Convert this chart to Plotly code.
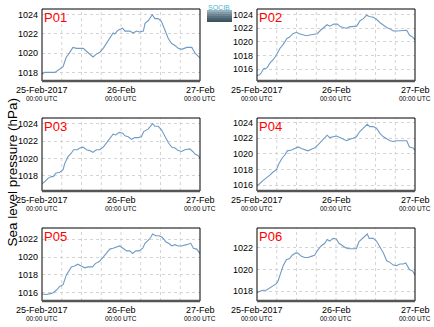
import pandas as pd
import plotly.graph_objects as go

START = "2017-02-25 00:00"

# ---- data: hours since 25-Feb-2017 00:00 UTC and sea level pressure (hPa) ----
p01_h = [0, 0.8, 2.3, 3.9, 5.2, 5.9, 6.4, 6.9, 7.4, 8.1, 8.7, 9.4, 10.5, 12.5, 13.5, 14.5, 15.5, 16.5,
         17.6, 18.6, 19.6, 20.6, 21.6, 22.1, 23.1, 24.5, 25.2, 26.7, 27.7, 28.7, 29.7, 30.8, 31.3, 32.3,
         33.5, 34.3, 35.3, 36.3, 37.4, 38.4, 39.4, 40.4, 41.4, 42.4, 44.0, 45.5, 46.5, 47.5, 48]
p01_v = [1017.8, 1018.0, 1018.0, 1018.0, 1018.3, 1018.5, 1018.6, 1019.1, 1019.6, 1019.9, 1020.3, 1020.6,
         1020.5, 1020.5, 1020.2, 1019.9, 1019.6, 1019.9, 1020.1, 1020.5, 1021.0, 1021.6, 1022.1, 1022.0,
         1022.4, 1022.6, 1022.3, 1022.3, 1022.1, 1022.3, 1022.2, 1022.3, 1023.1, 1023.4, 1024.0, 1023.6,
         1023.6, 1023.3, 1022.4, 1021.5, 1021.0, 1020.8, 1020.5, 1020.4, 1020.6, 1020.6, 1020.0, 1019.7, 1019.5]

p02_h = [0, 0.8, 1.3, 2.0, 3.0, 3.9, 4.9, 5.9, 6.9, 7.9, 9.1, 9.9, 10.9, 12.0, 12.8, 13.8, 15.0, 16.0,
         17.3, 18.3, 19.3, 20.3, 21.3, 22.1, 23.4, 24.4, 25.4, 26.2, 27.2, 28.0, 29.2, 30.3, 31.3, 32.3,
         33.3, 34.1, 35.3, 36.3, 37.4, 38.4, 39.4, 40.4, 41.4, 42.4, 43.9, 45.5, 46.3, 47.3, 48]
p02_v = [1015.1, 1015.2, 1015.5, 1016.1, 1016.2, 1016.9, 1017.4, 1018.1, 1019.0, 1019.6, 1020.5, 1020.7,
         1021.2, 1021.4, 1021.2, 1021.1, 1020.9, 1021.0, 1021.1, 1021.2, 1021.7, 1022.1, 1022.5, 1022.3,
         1022.6, 1022.6, 1022.2, 1022.1, 1022.0, 1022.2, 1022.2, 1022.3, 1023.1, 1023.4, 1023.9, 1023.7,
         1023.6, 1023.3, 1022.8, 1022.4, 1022.1, 1021.9, 1021.6, 1021.6, 1021.7, 1021.7, 1021.0, 1020.7, 1020.3]

p03_h = [0, 0.8, 1.8, 2.8, 3.4, 4.2, 5.4, 6.4, 6.9, 7.9, 8.9, 9.6, 10.7, 11.5, 12.5, 13.5, 14.5, 15.5,
         16.5, 17.6, 18.6, 19.6, 20.6, 21.6, 22.4, 23.5, 24.5, 25.2, 26.2, 27.2, 28.2, 29.2, 30.2, 30.9,
         32.3, 33.6, 34.3, 35.3, 36.3, 37.4, 38.4, 39.4, 40.4, 41.4, 42.4, 43.4, 44.9, 45.8, 46.5, 47.5, 48]
p03_v = [1017.1, 1017.3, 1017.7, 1017.9, 1017.9, 1018.3, 1018.4, 1018.7, 1019.4, 1020.2, 1020.6, 1021.0,
         1021.0, 1021.2, 1021.3, 1021.0, 1020.9, 1020.7, 1021.0, 1021.0, 1021.3, 1021.8, 1022.4, 1022.8,
         1022.7, 1023.0, 1022.9, 1022.6, 1022.5, 1022.2, 1022.4, 1022.4, 1022.5, 1023.1, 1023.4, 1024.0,
         1023.7, 1023.7, 1023.3, 1022.5, 1021.8, 1021.3, 1021.2, 1020.9, 1020.8, 1021.0, 1021.1, 1020.8,
         1020.5, 1020.3, 1020.0]

p04_h = [0, 0.8, 1.8, 2.8, 3.9, 4.9, 5.9, 6.7, 7.5, 8.5, 9.2, 10.5, 11.5, 12.5, 13.5, 14.5, 15.5, 16.5,
         17.6, 18.6, 19.6, 20.6, 21.3, 22.1, 23.1, 24.1, 25.2, 26.2, 27.2, 28.2, 29.2, 30.2, 31.1, 32.3,
         33.5, 34.3, 35.3, 36.3, 37.4, 38.4, 39.4, 40.4, 41.4, 42.4, 43.9, 45.5, 46.3, 47.3, 48]
p04_v = [1016.0, 1016.2, 1016.6, 1016.9, 1017.3, 1017.7, 1018.0, 1018.8, 1019.4, 1019.9, 1020.4, 1020.5,
         1020.7, 1020.9, 1020.7, 1020.6, 1020.4, 1020.6, 1020.8, 1021.2, 1021.6, 1022.0, 1022.4, 1022.1,
         1022.2, 1022.3, 1022.1, 1021.9, 1021.7, 1021.9, 1022.0, 1022.2, 1022.8, 1023.3, 1023.8, 1023.5,
         1023.5, 1023.3, 1022.6, 1022.2, 1021.9, 1021.7, 1021.6, 1021.7, 1021.7, 1021.7, 1020.9, 1020.8, 1020.5]

p05_h = [0, 1.3, 2.5, 3.4, 4.4, 5.4, 6.4, 6.9, 7.4, 8.1, 8.9, 9.9, 10.9, 11.9, 13.0, 14.0, 15.3, 16.3,
         17.4, 18.6, 19.6, 20.6, 21.6, 22.6, 23.6, 24.6, 25.7, 26.7, 27.5, 28.5, 29.5, 30.6, 31.3, 32.3,
         33.0, 33.6, 34.6, 35.6, 36.6, 37.7, 38.7, 39.4, 40.4, 41.4, 42.4, 43.9, 45.2, 46.0, 47.0, 48]
p05_v = [1015.85, 1015.8, 1015.9, 1016.0, 1016.3, 1016.7, 1016.9, 1017.4, 1018.0, 1018.4, 1018.9, 1019.0,
         1019.2, 1019.0, 1018.8, 1018.9, 1018.9, 1019.3, 1019.5, 1020.0, 1020.4, 1020.9, 1021.0, 1021.1,
         1021.25, 1021.0, 1020.7, 1020.7, 1020.4, 1020.7, 1020.7, 1021.0, 1021.55, 1021.9, 1022.2, 1022.6,
         1022.4, 1022.4, 1022.2, 1021.7, 1021.5, 1021.25, 1021.4, 1021.25, 1021.25, 1021.4, 1021.55, 1021.0,
         1020.9, 1020.4]

p06_h = [0, 0.8, 1.8, 2.8, 3.9, 4.9, 5.9, 6.4, 7.1, 7.9, 8.9, 9.9, 10.7, 11.7, 12.4, 13.5, 14.5, 15.5,
         16.5, 17.5, 18.5, 19.5, 20.6, 21.3, 22.1, 23.1, 24.1, 24.9, 25.9, 26.9, 27.9, 28.9, 30.2, 31.0,
         32.0, 33.1, 33.5, 34.1, 35.3, 36.3, 37.4, 38.4, 39.4, 40.4, 41.4, 42.4, 43.4, 44.4, 45.2, 46.3,
         47.3, 48]
p06_v = [1017.9, 1018.0, 1018.1, 1018.1, 1018.3, 1018.5, 1018.7, 1018.95, 1019.65, 1020.3, 1020.9, 1021.0,
         1021.3, 1021.5, 1021.5, 1021.2, 1021.1, 1021.1, 1021.2, 1021.3, 1021.8, 1022.15, 1022.4, 1022.75,
         1022.6, 1022.85, 1022.8, 1022.4, 1022.2, 1022.0, 1021.9, 1021.9, 1021.9, 1022.55, 1022.85, 1023.15,
         1023.25, 1022.85, 1022.85, 1022.6, 1022.0, 1021.5, 1020.8, 1020.65, 1020.4, 1020.35, 1020.5, 1020.5,
         1020.6, 1020.0, 1019.85, 1019.5]

names = ["P01", "P02", "P03", "P04", "P05", "P06"]
hours = [p01_h, p02_h, p03_h, p04_h, p05_h, p06_h]
values = [p01_v, p02_v, p03_v, p04_v, p05_v, p06_v]
y_ranges = [[1017.1, 1024.6], [1014.3, 1024.8], [1016.24, 1024.66],
            [1015.27, 1024.6], [1015.07, 1023.27], [1017.11, 1023.8]]
y_ticks = [[1018, 1020, 1022, 1024], [1016, 1018, 1020, 1022, 1024], [1018, 1020, 1022, 1024],
           [1016, 1018, 1020, 1022, 1024], [1016, 1018, 1020, 1022], [1018, 1020, 1022]]
x_tick_dates = ["2017-02-25", "2017-02-26", "2017-02-27"]
x_tick_top = ["25-Feb-2017", "26-Feb", "27-Feb"]
x_tick_bottom = "00:00 UTC"
y_title = "Sea level pressure (hPa)"

# ---- layout geometry (paper fractions) ----
W, H = 434, 327
col_x = [[42 / W, 200 / W], [257 / W, 415 / W]]
row_y = [[1 - 81 / H, 1 - 9 / H], [1 - 191 / H, 1 - 118 / H], [1 - 301 / H, 1 - 228 / H]]

LINE = "#6f9bc6"
GRID = "#d4d4d4"
FONT = "Liberation Sans, Arial, sans-serif"

fig = go.Figure()
t0 = pd.Timestamp(START)
minor_grid = pd.date_range("2017-02-25", "2017-02-27", freq="6h")

shapes = []
annotations = []
for i in range(6):
    r, c = divmod(i, 2)
    ax = "" if i == 0 else str(i + 1)
    xs = [t0 + pd.Timedelta(hours=h) for h in hours[i]]
    fig.add_trace(go.Scatter(x=xs, y=values[i], mode="lines", line=dict(color=LINE, width=1.1),
                             xaxis="x" + ax, yaxis="y" + ax, showlegend=False, hoverinfo="skip"))
    fig.update_layout(**{
        "xaxis" + ax: dict(domain=col_x[c], anchor="y" + ax, type="date",
                           range=[x_tick_dates[0], x_tick_dates[-1]],
                           showticklabels=False, showgrid=False, zeroline=False, ticks="", showline=False),
        "yaxis" + ax: dict(domain=row_y[r], anchor="x" + ax, range=y_ranges[i], tickvals=y_ticks[i],
                           showgrid=True, gridcolor=GRID, griddash="dot", gridwidth=1,
                           zeroline=False, ticks="", showline=False, ticklabelstandoff=3,
                           tickfont=dict(size=9, color="black", family=FONT)),
    })
    xr = "x" + ax
    yr = "y" + ax
    # vertical 6-hourly dotted grid
    for d in minor_grid[1:-1]:
        shapes.append(dict(type="line", xref=xr, yref=yr + " domain", x0=d, x1=d, y0=0, y1=1,
                           line=dict(color=GRID, width=1, dash="dot"), layer="below"))
    # frame
    shapes.append(dict(type="rect", xref=xr + " domain", yref=yr + " domain", x0=0, x1=1, y0=0, y1=1,
                       line=dict(color="black", width=1)))
    shapes.append(dict(type="line", xref=xr + " domain", yref=yr + " domain", x0=0, x1=1, y0=0, y1=0,
                       line=dict(color="#555555", width=2.5)))
    annotations.append(dict(text=names[i], xref=xr + " domain", yref=yr + " domain", x=0.0, y=1.0,
                            xanchor="left", yanchor="top", showarrow=False, xshift=0, yshift=1,
                            font=dict(size=13, color="red", family=FONT)))
    # x tick labels (two lines)
    for d, top in zip(x_tick_dates, x_tick_top):
        annotations.append(dict(text=top, xref=xr, yref=yr + " domain", x=d, y=0, yshift=-8.5,
                                xanchor="center", yanchor="middle", showarrow=False,
                                font=dict(size=9, color="black", family=FONT)))
        annotations.append(dict(text=x_tick_bottom, xref=xr, yref=yr + " domain", x=d, y=0, yshift=-17.5,
                                xanchor="center", yanchor="middle", showarrow=False,
                                font=dict(size=6.5, color="black", family=FONT)))

annotations.append(dict(text=y_title, xref="paper", yref="paper", x=2 / W, y=1 - 172 / H,
                        textangle=-90, showarrow=False, xanchor="left", yanchor="middle",
                        font=dict(size=13.5, color="black", family=FONT)))

# small logo (top right of first panel)
logo_cols = ["#9ab0bc", "#8299a6", "#6c8592", "#5a7380", "#4a626f", "#3e5460"]
for k, col in enumerate(logo_cols):
    shapes.append(dict(type="rect", xref="paper", yref="paper",
                       x0=207 / W, x1=232 / W, y0=1 - (10 + 2 * (k + 1)) / H, y1=1 - (10 + 2 * k) / H,
                       fillcolor=col, line=dict(width=0)))
annotations.append(dict(text="SOCIB", xref="paper", yref="paper", x=219.5 / W, y=1 - 7 / H,
                        showarrow=False, xanchor="center", yanchor="middle",
                        font=dict(size=7, color="#3fb6d0", family=FONT)))

fig.update_layout(width=W, height=H, margin=dict(l=0, r=0, t=0, b=0),
                  paper_bgcolor="white", plot_bgcolor="white",
                  shapes=shapes, annotations=annotations, font=dict(family=FONT))

fig.write_html("out.html")
